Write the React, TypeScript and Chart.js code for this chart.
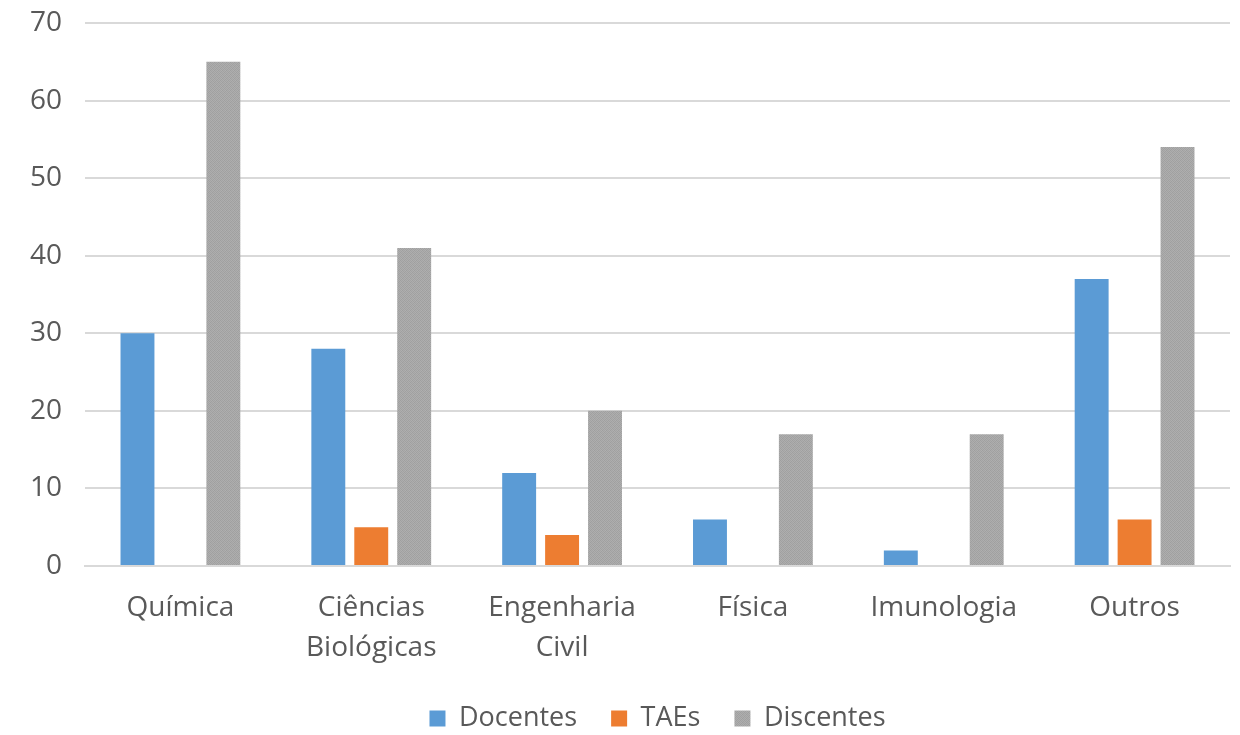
import React, { useEffect, useRef } from "react";
import { Chart, registerables } from "chart.js";

Chart.register(...registerables);

const categories: (string | string[])[] = [
  "Química",
  ["Ciências", "Biológicas"],
  ["Engenharia", "Civil"],
  "Física",
  "Imunologia",
  "Outros",
];
const seriesNames = ["Docentes", "TAEs", "Discentes"];
const docentes = [30, 28, 12, 6, 2, 37];
const taes = [0, 5, 4, 0, 0, 6];
const discentes = [65, 41, 20, 17, 17, 54];
const yMin = 0;
const yMax = 70;
const yStep = 10;

const FONT = "'Open Sans', sans-serif";
const TEXT = "#595959";

function grayPattern(): CanvasPattern | string {
  const c = document.createElement("canvas");
  c.width = 4;
  c.height = 4;
  const ctx = c.getContext("2d");
  if (!ctx) return "#a5a5a5";
  const shades = [
    ["#9f9f9f", "#adadad", "#a3a3a3", "#afafaf"],
    ["#aeaeae", "#a1a1a1", "#adadad", "#a0a0a0"],
    ["#a4a4a4", "#b0b0b0", "#9e9e9e", "#acacac"],
    ["#adadad", "#a0a0a0", "#aeaeae", "#a2a2a2"],
  ];
  for (let y = 0; y < 4; y++)
    for (let x = 0; x < 4; x++) {
      ctx.fillStyle = shades[y][x];
      ctx.fillRect(x, y, 1, 1);
    }
  return ctx.createPattern(c, "repeat") || "#a5a5a5";
}

export default function App() {
  const ref = useRef<HTMLCanvasElement | null>(null);
  useEffect(() => {
    if (!ref.current) return;
    const gray = grayPattern();
    const chart = new Chart(ref.current, {
      type: "bar",
      data: {
        labels: categories,
        datasets: [
          { label: seriesNames[0], data: docentes, backgroundColor: "#5b9bd5" },
          { label: seriesNames[1], data: taes, backgroundColor: "#ed7d31" },
          { label: seriesNames[2], data: discentes, backgroundColor: gray as any },
        ],
      },
      options: {
        animation: false,
        responsive: true,
        maintainAspectRatio: false,
        layout: { padding: { top: 23, right: 10, bottom: -7, left: 0 } },
        datasets: {
          bar: { categoryPercentage: 0.675, barPercentage: 0.79 },
        },
        plugins: {
          tooltip: { enabled: false },
          legend: {
            position: "bottom",
            fullSize: false,
            labels: {
              font: { family: FONT, size: 27 },
              color: TEXT,
              boxWidth: 16,
              boxHeight: 16,
              padding: 34,
            },
          },
        },
        scales: {
          x: {
            grid: { display: false, drawTicks: false },
            border: { display: true, color: "#d9d9d9", width: 2 },
            ticks: {
              font: { family: FONT, size: 28, lineHeight: 1.43 },
              color: TEXT,
              padding: 22,
              maxRotation: 0,
              autoSkip: false,
            },
            afterFit: (s: any) => {
              s.height = 105;
            },
          },
          y: {
            min: yMin,
            max: yMax,
            grid: { color: "#d9d9d9", lineWidth: 2, drawTicks: false },
            border: { display: false },
            ticks: {
              stepSize: yStep,
              font: { family: FONT, size: 28 },
              color: TEXT,
              padding: 23,
            },
            afterFit: (s: any) => {
              s.width = 85;
              s.paddingTop = 0;
              s.paddingBottom = 0;
            },
          },
        },
      },
    });
    return () => chart.destroy();
  }, []);
  return (
    <div style={{ position: "fixed", left: 0, top: 0, width: 1240, height: 735, background: "#fff" }}>
      <canvas ref={ref} />
    </div>
  );
}
